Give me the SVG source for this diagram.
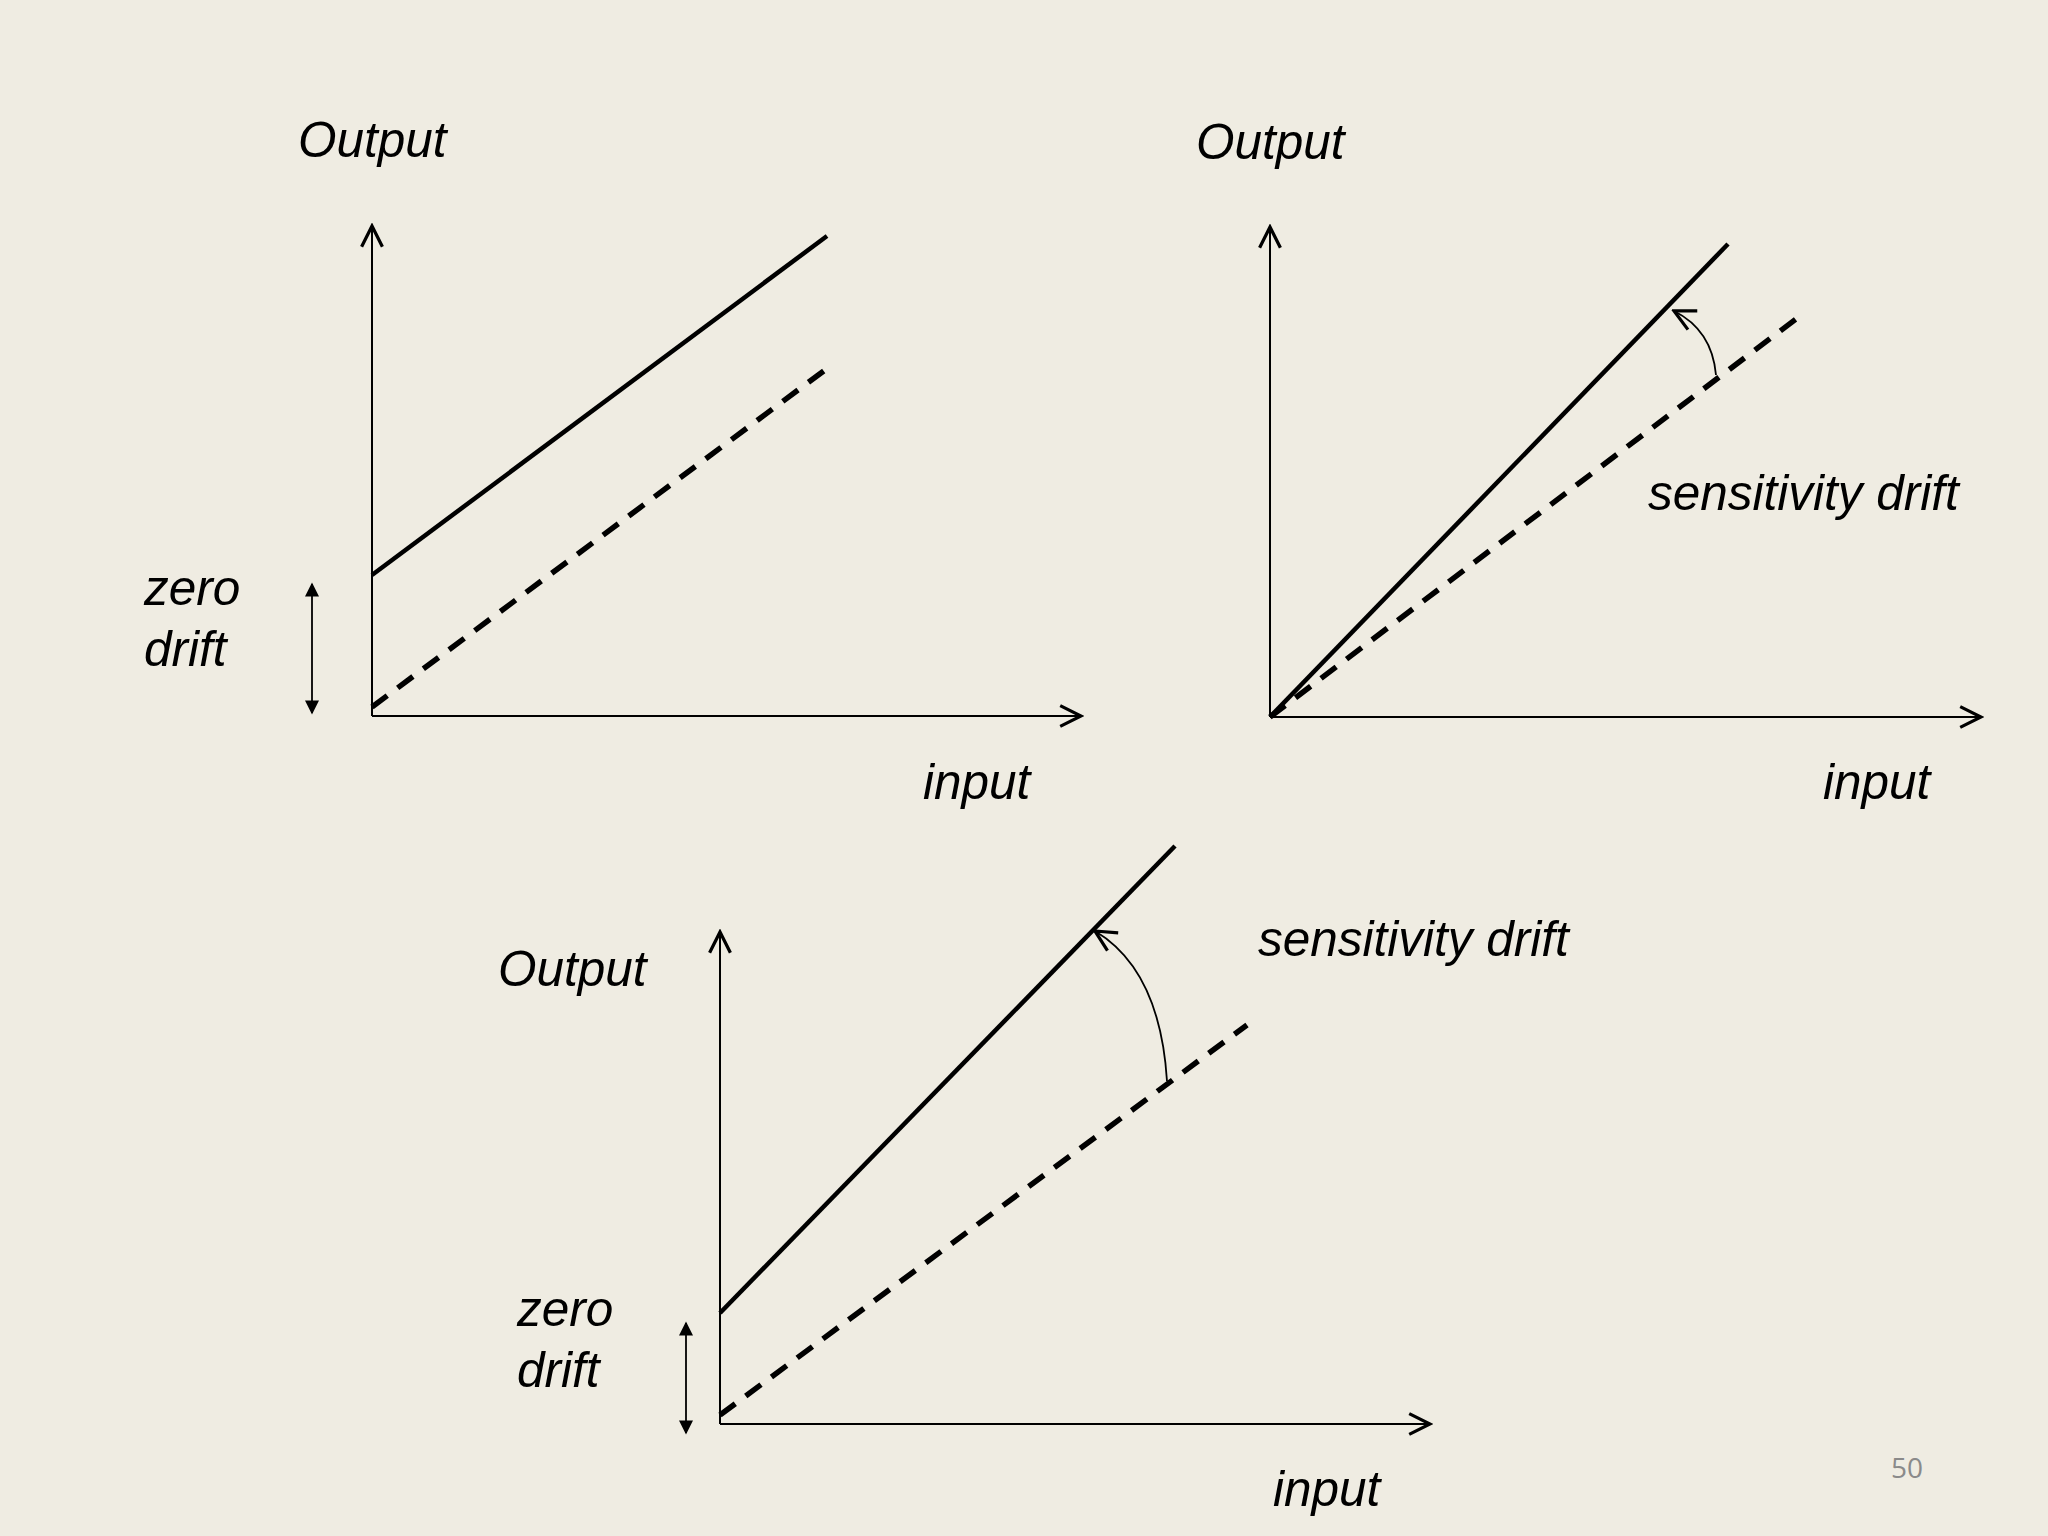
<svg xmlns="http://www.w3.org/2000/svg" width="2048" height="1536" viewBox="0 0 2048 1536">
<style>
text{font-family:"Liberation Sans",Arial,sans-serif;font-style:italic;font-size:49.5px;fill:#000}
.ax{stroke:#000;stroke-width:2;fill:none}
.sol{stroke:#000;stroke-width:4.5;fill:none}
.dash{stroke:#000;stroke-width:5.5;fill:none;stroke-dasharray:19 13}
.thin{stroke:#000;stroke-width:1.8;fill:none}
</style>
<defs>
<marker id="open" viewBox="0 0 20 20" refX="18" refY="10" markerWidth="26" markerHeight="26" markerUnits="userSpaceOnUse" orient="auto"><path d="M2,2 L18,10 L2,18" fill="none" stroke="#000" stroke-width="2.5"/></marker>
<marker id="tri" viewBox="0 0 10 10" refX="9" refY="5" markerWidth="16" markerHeight="14" markerUnits="userSpaceOnUse" orient="auto"><path d="M0,0 L10,5 L0,10 Z" fill="#000"/></marker>
</defs>
<rect width="2048" height="1536" fill="#efece2"/>
<g id="chart1">
<path class="ax" d="M372,716 L372,226" marker-end="url(#open)"/>
<path class="ax" d="M372,716 L1081,716" marker-end="url(#open)"/>
<path class="sol" d="M372,575 L827,236"/>
<path class="dash" d="M372,707 L829,367"/>
<path class="thin" d="M312,646 L312,584" marker-end="url(#tri)"/>
<path class="thin" d="M312,646 L312,713" marker-end="url(#tri)"/>
<text x="298" y="157">Output</text>
<text x="144" y="605">zero</text>
<text x="144" y="666">drift</text>
<text x="923" y="799">input</text>
</g>
<g id="chart2">
<path class="ax" d="M1270,717 L1270,227" marker-end="url(#open)"/>
<path class="ax" d="M1270,717 L1981,717" marker-end="url(#open)"/>
<path class="sol" d="M1270,717 L1728,244"/>
<path class="dash" d="M1270,717 L1796,319"/>
<path class="thin" d="M1716,375 Q1712,330 1674,311" marker-end="url(#open)"/>
<text x="1648" y="510">sensitivity drift</text>
<text x="1196" y="159">Output</text>
<text x="1823" y="799">input</text>
</g>
<g id="chart3">
<path class="ax" d="M720,1424 L720,932" marker-end="url(#open)"/>
<path class="ax" d="M720,1424 L1430,1424" marker-end="url(#open)"/>
<path class="sol" d="M720,1313 L1175,846"/>
<path class="dash" d="M720,1415 L1247,1025"/>
<path class="thin" d="M1167,1081 Q1160,970 1095,931" marker-end="url(#open)"/>
<path class="thin" d="M686,1378 L686,1323" marker-end="url(#tri)"/>
<path class="thin" d="M686,1378 L686,1433" marker-end="url(#tri)"/>
<text x="1258" y="956">sensitivity drift</text>
<text x="498" y="986">Output</text>
<text x="517" y="1326">zero</text>
<text x="517" y="1387">drift</text>
<text x="1273" y="1506">input</text>
</g>
<text x="1891" y="1478" style="font-style:normal;font-size:28px;fill:#8a8a8a;font-family:'Open Sans',sans-serif">50</text>
</svg>
